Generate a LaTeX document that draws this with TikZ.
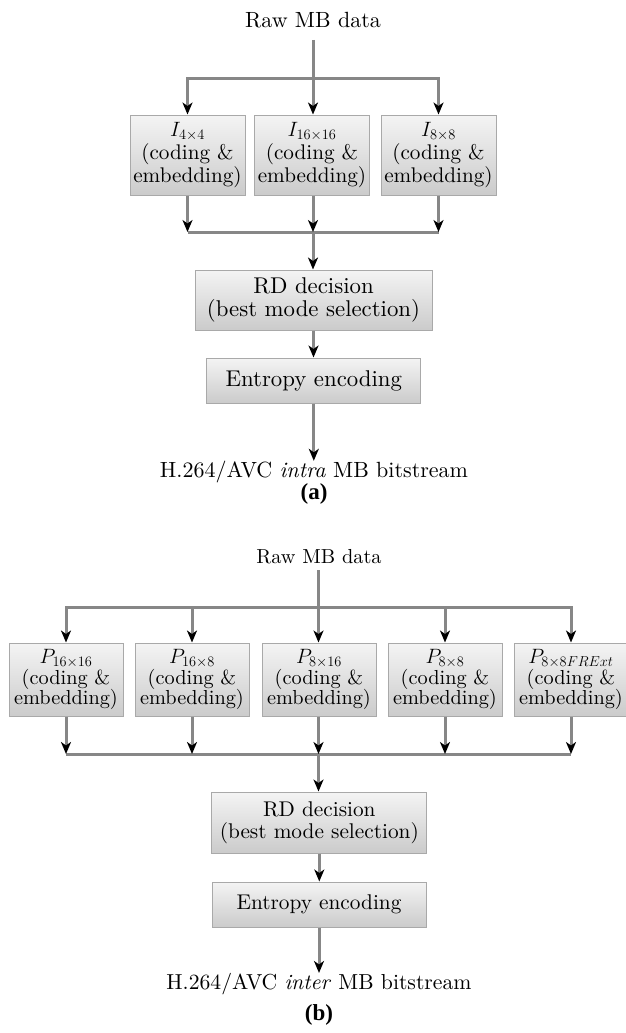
\documentclass[tikz,border=0pt]{standalone}
\usepackage{fontspec}
\setmainfont{lmroman10-regular.otf}[ItalicFont=lmroman10-italic.otf, BoldFont=lmroman10-bold.otf]
\newfontfamily\capfont{Liberation Serif}
\usetikzlibrary{arrows.meta}
\definecolor{linegray}{HTML}{878787}
\definecolor{boxborder}{HTML}{A9A9A9}
\definecolor{boxtop}{HTML}{F4F4F4}
\definecolor{boxbot}{HTML}{CBCBCB}
\tikzset{
 ln/.style={draw=linegray, line width=3pt},
 arr/.style={ln, -{Stealth[length=12pt,width=10pt,inset=3.5pt,color=black]}},
 mbox/.style={draw=boxborder, line width=1pt, top color=boxtop, bottom color=boxbot, align=center, inner sep=0pt},
 fa/.style={font=\fontsize{21.2}{23}\selectfont},
 fra/.style={font=\fontsize{22.8}{23}\selectfont},
 fb/.style={font=\fontsize{20.3}{20.5}\selectfont},
 frb/.style={font=\fontsize{21.3}{22}\selectfont},
 sba/.style={mbox, fa, minimum width=115pt, minimum height=80pt},
 sbb/.style={mbox, fb, minimum width=114pt, minimum height=73pt},
 la/.style={font=\fontsize{22}{26}\selectfont, inner sep=0pt},
 lb/.style={font=\fontsize{20.3}{24}\selectfont, inner sep=0pt},
 lbo/.style={font=\fontsize{21.7}{24}\selectfont, inner sep=0pt},
 capst/.style={font=\capfont\fontsize{23}{26}\selectfont\bfseries, inner sep=0pt},
}
\begin{document}
\begin{tikzpicture}[x=1pt,y=-1pt]
\useasboundingbox (0,0) rectangle (625,1033);
% ---------------- (a)
\node[la] (rawa) at (313,20) {Raw MB data};
\coordinate (ra) at (313,40);
\coordinate (ta) at (313,78);
\node[sba] (a1) at (187.5,155) {$I_{4\times4}$\\(coding \&\\embedding)};
\node[sba] (a2) at (312,155) {$I_{16\times16}$\\(coding \&\\embedding)};
\node[sba] (a3) at (438.5,155) {$I_{8\times8}$\\(coding \&\\embedding)};
\coordinate (ba) at (313,232);
\node[mbox, fra, minimum width=237pt, minimum height=60pt] (rda) at (313.5,300) {RD decision\\(best mode selection)};
\node[mbox, fra, minimum width=214pt, minimum height=45pt] (ena) at (313.8,380.5) {Entropy encoding};
\node[la] (outa) at (314,472) {H.264/AVC \textit{intra} MB bitstream};
\node[capst] (capa) at (314,494) {(a)};

\draw[arr] (ra) -- (ra |- a2.north);
\draw[arr] (ta) -| (a1.north);
\draw[arr] (ta) -| (a3.north);
\draw[ln] (a1.south |- ba) -- (a3.south |- ba);
\draw[arr] (a1.south) -- (a1.south |- ba);
\draw[arr] (ba |- a2.south) -- (ba);
\draw[arr] (a3.south) -- (a3.south |- ba);
\draw[arr] (ba) -- (ba |- rda.north);
\draw[arr] (rda.south) -- (rda.south |- ena.north);
\draw[arr] (ena.south) -- (ena.south |- outa.north);

% ---------------- (b)
\node[lb] (rawb) at (319,557) {Raw MB data};
\coordinate (rb) at (318.5,570);
\coordinate (tb) at (318.5,607);
\node[sbb] (b1) at (66,679.5) {$P_{16\times16}$\\(coding \&\\embedding)};
\node[sbb] (b2) at (192,679.5) {$P_{16\times8}$\\(coding \&\\embedding)};
\node[sbb] (b3) at (319,679.5) {$P_{8\times16}$\\(coding \&\\embedding)};
\node[sbb] (b4) at (445,679.5) {$P_{8\times8}$\\(coding \&\\embedding)};
\node[sbb] (b5) at (571,679.5) {$P_{8\times8FRExt}$\\(coding \&\\embedding)};
\coordinate (bb) at (318.5,754);
\node[mbox, frb, minimum width=215pt, minimum height=61pt] (rdb) at (319.3,822.5) {RD decision\\(best mode selection)};
\node[mbox, frb, minimum width=214pt, minimum height=45pt] (enb) at (319,904.5) {Entropy encoding};
\node[lbo] (outb) at (319,984) {H.264/AVC \textit{inter} MB bitstream};
\node[capst] (capb) at (319,1015) {(b)};

\draw[arr] (rb) -- (rb |- b3.north);
\draw[arr] (tb) -| (b1.north);
\draw[arr] (tb) -| (b2.north);
\draw[arr] (tb) -| (b4.north);
\draw[arr] (tb) -| (b5.north);
\draw[ln] (b1.south |- bb) -- (b5.south |- bb);
\draw[arr] (b1.south) -- (b1.south |- bb);
\draw[arr] (b2.south) -- (b2.south |- bb);
\draw[arr] (bb |- b3.south) -- (bb);
\draw[arr] (b4.south) -- (b4.south |- bb);
\draw[arr] (b5.south) -- (b5.south |- bb);
\draw[arr] (bb) -- (bb |- rdb.north);
\draw[arr] (rdb.south) -- (rdb.south |- enb.north);
\draw[arr] (enb.south) -- (enb.south |- outb.north);
\end{tikzpicture}
\end{document}
